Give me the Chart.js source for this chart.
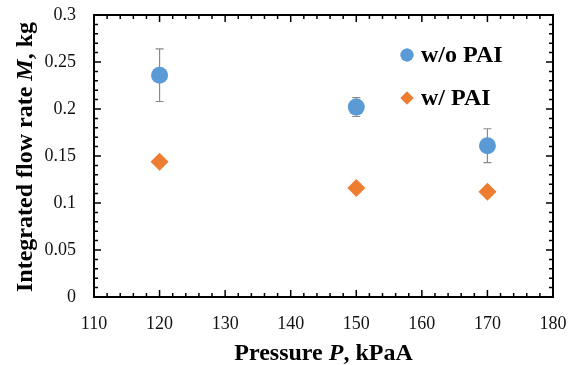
<!DOCTYPE html>
<html>
<head>
<meta charset="utf-8">
<script src="https://cdn.jsdelivr.net/npm/chart.js@4.4.1/dist/chart.umd.min.js"></script>
<style>
  html, body { margin: 0; padding: 0; background: #fff; }
  #wrap { width: 575px; height: 365px; position: relative; }
</style>
</head>
<body>
<div id="wrap"><canvas id="flowChart"></canvas></div>
<script>
// ==========================
// Data
// ==========================
const pressures      = [120, 150, 170];            // kPaA
const massWithoutPAI = [0.236, 0.202, 0.161];      // kg
const errWithoutPAI  = [0.028, 0.010, 0.018];      // +/- kg
const massWithPAI    = [0.144, 0.116, 0.112];      // kg
const seriesLabels   = ['w/o PAI', 'w/ PAI'];
const xTickLabels    = ['110', '120', '130', '140', '150', '160', '170', '180'];
const yTickLabels    = ['0', '0.05', '0.1', '0.15', '0.2', '0.25', '0.3'];

const FONT = '"Liberation Serif", "Times New Roman", serif';
const BLUE = '#5B9BD5';
const ORANGE = '#ED7D31';

// ==========================
// Error bars (behind the markers)
// ==========================
const errorBars = {
  id: 'errorBars',
  beforeDatasetsDraw(chart) {
    const { ctx, scales: { x, y } } = chart;
    ctx.save();
    ctx.strokeStyle = '#8a8a8a';
    ctx.lineWidth = 1.2;
    pressures.forEach((p, i) => {
      const px = x.getPixelForValue(p);
      const top = y.getPixelForValue(massWithoutPAI[i] + errWithoutPAI[i]);
      const bot = y.getPixelForValue(massWithoutPAI[i] - errWithoutPAI[i]);
      ctx.beginPath();
      ctx.moveTo(px, top); ctx.lineTo(px, bot);
      ctx.moveTo(px - 4, top); ctx.lineTo(px + 4, top);
      ctx.moveTo(px - 4, bot); ctx.lineTo(px + 4, bot);
      ctx.stroke();
    });
    ctx.restore();
  }
};

// ==========================
// Frame with inward ticks
// ==========================
const frameTicks = {
  id: 'frameTicks',
  afterDraw(chart) {
    const { ctx, chartArea: a, scales: { x, y } } = chart;
    ctx.save();
    ctx.strokeStyle = '#000';
    ctx.lineWidth = 1.5;
    ctx.beginPath();
    for (let i = 0; i <= 35; i++) {
      const px = x.getPixelForValue(110 + i * 2);
      const len = i % 5 === 0 ? 7 : 4;
      ctx.moveTo(px, a.bottom); ctx.lineTo(px, a.bottom - len);
      ctx.moveTo(px, a.top); ctx.lineTo(px, a.top + len);
    }
    for (let j = 0; j <= 30; j++) {
      const py = y.getPixelForValue(j / 100);
      const len = j % 5 === 0 ? 7 : 4;
      ctx.moveTo(a.left, py); ctx.lineTo(a.left + len, py);
      ctx.moveTo(a.right, py); ctx.lineTo(a.right - len, py);
    }
    ctx.stroke();
    ctx.lineWidth = 2;
    ctx.strokeRect(a.left, a.top, a.right - a.left, a.bottom - a.top);
    ctx.restore();
  }
};

// ==========================
// Axis titles (mixed italic)
// ==========================
function drawRich(ctx, parts, cx, cy, size) {
  let total = 0;
  parts.forEach(p => {
    ctx.font = (p.i ? 'italic ' : '') + 'bold ' + size + 'px ' + FONT;
    p.w = ctx.measureText(p.t).width;
    total += p.w;
  });
  let x = cx - total / 2;
  ctx.textAlign = 'left';
  ctx.textBaseline = 'middle';
  parts.forEach(p => {
    ctx.font = (p.i ? 'italic ' : '') + 'bold ' + size + 'px ' + FONT;
    ctx.fillText(p.t, x, cy);
    x += p.w;
  });
}

const axisTitles = {
  id: 'axisTitles',
  afterDraw(chart) {
    const { ctx, chartArea: a } = chart;
    ctx.save();
    ctx.fillStyle = '#000';
    drawRich(ctx, [{ t: 'Pressure ' }, { t: 'P', i: true }, { t: ', kPaA' }],
      (a.left + a.right) / 2, 354, 24);
    ctx.translate(26, 157);
    ctx.rotate(-Math.PI / 2);
    drawRich(ctx, [{ t: 'Integrated flow rate ' }, { t: 'M', i: true }, { t: ', kg' }], 0, 0, 24);
    ctx.restore();
  }
};

// ==========================
// Legend inside the plot
// ==========================
const insideLegend = {
  id: 'insideLegend',
  afterDraw(chart) {
    const { ctx, chartArea: a } = chart;
    ctx.save();
    ctx.font = 'bold 24px ' + FONT;
    ctx.textAlign = 'left';
    ctx.textBaseline = 'middle';
    chart.data.datasets.forEach((ds, i) => {
      const cy = a.top + 40 + i * 43;
      const cx = a.left + 313;
      ctx.fillStyle = ds.backgroundColor;
      Chart.helpers.drawPoint(ctx, { pointStyle: ds.pointStyle, radius: 6.5, borderWidth: 0 }, cx, cy);
      ctx.fill();
      ctx.fillStyle = '#000';
      ctx.fillText(ds.label, cx + 14, cy + 1);
    });
    ctx.restore();
  }
};

// ==========================
// Chart
// ==========================
const ctx = document.getElementById('flowChart').getContext('2d');
new Chart(ctx, {
  type: 'scatter',
  data: {
    datasets: [
      {
        label: seriesLabels[0],
        data: pressures.map((p, i) => ({ x: p, y: massWithoutPAI[i] })),
        backgroundColor: BLUE,
        borderColor: BLUE,
        pointStyle: 'circle',
        pointRadius: 8.5,
        borderWidth: 0
      },
      {
        label: seriesLabels[1],
        data: pressures.map((p, i) => ({ x: p, y: massWithPAI[i] })),
        backgroundColor: ORANGE,
        borderColor: ORANGE,
        pointStyle: 'rectRot',
        pointRadius: 9,
        borderWidth: 0
      }
    ]
  },
  options: {
    responsive: true,
    maintainAspectRatio: false,
    animation: false,
    events: [],
    layout: { padding: { top: 15, right: 22, left: 0, bottom: 0 } },
    plugins: { legend: { display: false }, tooltip: { enabled: false } },
    scales: {
      x: {
        type: 'linear', min: 110, max: 180,
        grid: { display: false, drawTicks: false },
        border: { display: false },
        afterFit: s => { s.height = 68; s.paddingLeft = 0; s.paddingRight = 0; },
        ticks: {
          stepSize: 10, padding: 16, color: '#111',
          font: { family: FONT, size: 18 },
          callback: v => xTickLabels[Math.round((v - 110) / 10)]
        }
      },
      y: {
        min: 0, max: 0.3,
        grid: { display: false, drawTicks: false },
        border: { display: false },
        afterFit: s => { s.width = 94; s.paddingTop = 0; s.paddingBottom = 0; },
        ticks: {
          stepSize: 0.05, padding: 18, color: '#111',
          font: { family: FONT, size: 18 },
          callback: v => yTickLabels[Math.round(v / 0.05)]
        }
      }
    }
  },
  plugins: [errorBars, frameTicks, axisTitles, insideLegend]
});
</script>
</body>
</html>
